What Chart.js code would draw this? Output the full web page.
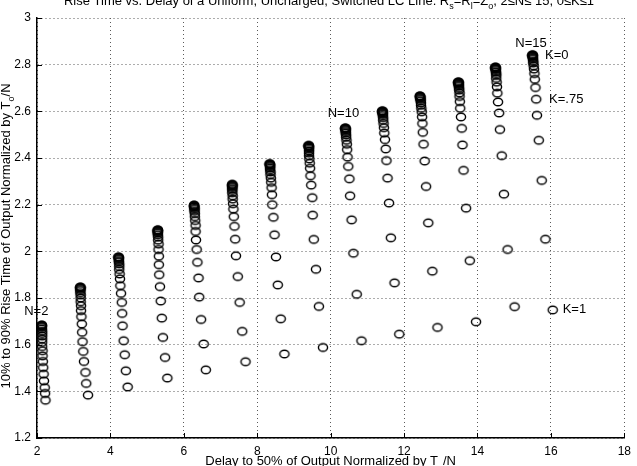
<!DOCTYPE html>
<html>
<head>
<meta charset="utf-8">
<script src="https://cdn.jsdelivr.net/npm/chart.js@4"></script>
<style>
  html, body { margin: 0; padding: 0; background: #fff; }
  canvas { display: block; }
</style>
</head>
<body>
<canvas id="riseChart" width="637" height="466"></canvas>
<script>
// axis ticks
const xTicks = [2, 4, 6, 8, 10, 12, 14, 16, 18];
const yTicks = [1.2, 1.4, 1.6, 1.8, 2, 2.2, 2.4, 2.6, 2.8, 3];

// one column per N, points ordered K=0 (top) ... K=1 (bottom), step .05
const n2Delay = [2.13, 2.13, 2.13, 2.13, 2.13, 2.13, 2.14, 2.14, 2.14, 2.14, 2.14, 2.14, 2.15, 2.15, 2.16, 2.17, 2.18, 2.19, 2.21, 2.22, 2.23];
const n2Rise = [1.684, 1.683, 1.681, 1.678, 1.674, 1.667, 1.658, 1.648, 1.637, 1.624, 1.610, 1.592, 1.574, 1.552, 1.528, 1.502, 1.474, 1.445, 1.416, 1.391, 1.362];

const n3Delay = [3.18, 3.18, 3.18, 3.18, 3.18, 3.18, 3.18, 3.19, 3.19, 3.19, 3.20, 3.20, 3.21, 3.22, 3.23, 3.24, 3.26, 3.28, 3.32, 3.34, 3.39];
const n3Rise = [1.847, 1.846, 1.844, 1.842, 1.837, 1.832, 1.823, 1.813, 1.800, 1.784, 1.767, 1.746, 1.720, 1.689, 1.653, 1.613, 1.571, 1.528, 1.481, 1.434, 1.384];

const n4Delay = [4.22, 4.22, 4.23, 4.23, 4.23, 4.23, 4.23, 4.24, 4.24, 4.24, 4.25, 4.26, 4.27, 4.29, 4.31, 4.32, 4.33, 4.36, 4.39, 4.42, 4.47];
const n4Rise = [1.976, 1.975, 1.973, 1.970, 1.966, 1.960, 1.955, 1.946, 1.935, 1.922, 1.903, 1.882, 1.853, 1.820, 1.781, 1.734, 1.681, 1.617, 1.557, 1.488, 1.419];

const n5Delay = [5.29, 5.29, 5.29, 5.29, 5.29, 5.29, 5.29, 5.29, 5.30, 5.30, 5.31, 5.31, 5.32, 5.32, 5.33, 5.35, 5.37, 5.40, 5.43, 5.49, 5.55];
const n5Rise = [2.092, 2.091, 2.089, 2.088, 2.085, 2.082, 2.078, 2.071, 2.061, 2.048, 2.031, 2.008, 1.979, 1.943, 1.900, 1.849, 1.787, 1.714, 1.631, 1.545, 1.457];

const n6Delay = [6.28, 6.28, 6.28, 6.28, 6.28, 6.29, 6.29, 6.29, 6.30, 6.30, 6.31, 6.32, 6.32, 6.33, 6.35, 6.37, 6.40, 6.42, 6.47, 6.54, 6.60];
const n6Rise = [2.198, 2.197, 2.195, 2.192, 2.190, 2.185, 2.180, 2.172, 2.162, 2.149, 2.132, 2.111, 2.085, 2.049, 2.008, 1.953, 1.886, 1.804, 1.708, 1.603, 1.492];

const n7Delay = [7.32, 7.32, 7.32, 7.32, 7.32, 7.32, 7.32, 7.32, 7.32, 7.33, 7.33, 7.34, 7.35, 7.36, 7.38, 7.40, 7.42, 7.47, 7.52, 7.59, 7.68];
const n7Rise = [2.287, 2.286, 2.284, 2.281, 2.278, 2.274, 2.268, 2.261, 2.251, 2.238, 2.224, 2.204, 2.181, 2.149, 2.107, 2.052, 1.981, 1.892, 1.781, 1.657, 1.527];

const n8Delay = [8.34, 8.34, 8.34, 8.35, 8.35, 8.35, 8.35, 8.35, 8.36, 8.36, 8.37, 8.38, 8.39, 8.40, 8.41, 8.44, 8.47, 8.51, 8.56, 8.64, 8.74];
const n8Rise = [2.376, 2.374, 2.373, 2.370, 2.367, 2.363, 2.357, 2.350, 2.340, 2.329, 2.314, 2.296, 2.273, 2.243, 2.200, 2.146, 2.071, 1.976, 1.856, 1.711, 1.560];

const n9Delay = [9.40, 9.40, 9.40, 9.40, 9.41, 9.41, 9.41, 9.41, 9.41, 9.41, 9.42, 9.43, 9.44, 9.45, 9.47, 9.50, 9.51, 9.54, 9.60, 9.68, 9.79];
const n9Rise = [2.454, 2.453, 2.451, 2.450, 2.447, 2.443, 2.437, 2.430, 2.421, 2.410, 2.396, 2.378, 2.356, 2.324, 2.284, 2.230, 2.155, 2.051, 1.923, 1.764, 1.588];

const n10Delay = [10.40, 10.40, 10.40, 10.40, 10.41, 10.41, 10.41, 10.41, 10.42, 10.42, 10.43, 10.44, 10.45, 10.46, 10.48, 10.51, 10.53, 10.57, 10.62, 10.71, 10.84];
const n10Rise = [2.529, 2.528, 2.526, 2.525, 2.522, 2.518, 2.513, 2.507, 2.499, 2.489, 2.476, 2.459, 2.436, 2.404, 2.364, 2.311, 2.238, 2.135, 1.992, 1.816, 1.617];

const n11Delay = [11.41, 11.41, 11.41, 11.41, 11.41, 11.42, 11.42, 11.42, 11.43, 11.43, 11.44, 11.45, 11.46, 11.48, 11.50, 11.52, 11.55, 11.59, 11.64, 11.74, 11.87];
const n11Rise = [2.602, 2.601, 2.599, 2.598, 2.595, 2.592, 2.588, 2.582, 2.573, 2.562, 2.548, 2.530, 2.507, 2.479, 2.439, 2.389, 2.314, 2.207, 2.058, 1.865, 1.645];

const n12Delay = [12.43, 12.43, 12.44, 12.44, 12.44, 12.44, 12.45, 12.45, 12.46, 12.46, 12.47, 12.48, 12.49, 12.50, 12.51, 12.53, 12.56, 12.60, 12.66, 12.77, 12.91];
const n12Rise = [2.666, 2.665, 2.664, 2.662, 2.659, 2.655, 2.651, 2.645, 2.636, 2.626, 2.613, 2.598, 2.576, 2.548, 2.510, 2.459, 2.387, 2.278, 2.122, 1.915, 1.674];

const n13Delay = [13.48, 13.48, 13.48, 13.48, 13.48, 13.49, 13.49, 13.49, 13.50, 13.50, 13.51, 13.51, 13.52, 13.53, 13.55, 13.57, 13.59, 13.62, 13.69, 13.79, 13.96];
const n13Rise = [2.726, 2.725, 2.724, 2.722, 2.719, 2.716, 2.712, 2.707, 2.699, 2.691, 2.679, 2.664, 2.642, 2.613, 2.576, 2.527, 2.456, 2.347, 2.185, 1.960, 1.698];

const n14Delay = [14.49, 14.49, 14.49, 14.49, 14.49, 14.50, 14.50, 14.50, 14.51, 14.51, 14.51, 14.52, 14.53, 14.54, 14.56, 14.59, 14.61, 14.66, 14.72, 14.82, 15.01];
const n14Rise = [2.790, 2.788, 2.787, 2.785, 2.782, 2.780, 2.775, 2.769, 2.762, 2.754, 2.741, 2.725, 2.705, 2.678, 2.640, 2.593, 2.522, 2.410, 2.245, 2.008, 1.763];

const n15Delay = [15.50, 15.50, 15.50, 15.50, 15.50, 15.51, 15.51, 15.51, 15.52, 15.52, 15.53, 15.54, 15.55, 15.56, 15.58, 15.60, 15.62, 15.67, 15.75, 15.85, 16.05];
const n15Rise = [2.842, 2.841, 2.840, 2.838, 2.835, 2.832, 2.828, 2.823, 2.815, 2.807, 2.795, 2.781, 2.762, 2.737, 2.702, 2.652, 2.583, 2.476, 2.304, 2.052, 1.749];

// text notes placed in data coordinates
const noteTexts = ['N=2', 'N=10', 'N=15', 'K=0', 'K=.75', 'K=1'];
const noteX = [1.65, 9.92, 15.03, 15.84, 15.95, 16.32];
const noteY = [1.741, 2.593, 2.893, 2.841, 2.652, 1.750];

const FONT = "'Liberation Sans', Arial, Helvetica, sans-serif";

const delayCols = [n2Delay, n3Delay, n4Delay, n5Delay, n6Delay, n7Delay, n8Delay, n9Delay, n10Delay, n11Delay, n12Delay, n13Delay, n14Delay, n15Delay];
const riseCols = [n2Rise, n3Rise, n4Rise, n5Rise, n6Rise, n7Rise, n8Rise, n9Rise, n10Rise, n11Rise, n12Rise, n13Rise, n14Rise, n15Rise];

// matlab-ish 'o' marker, a touch wider than tall
function makeMarker() {
    const c = document.createElement('canvas');
    c.width = 14;
    c.height = 12;
    const g = c.getContext('2d');
    g.strokeStyle = '#000';
    g.lineWidth = 1.4;
    g.beginPath();
    g.ellipse(7, 6, 4.6, 3.8, 0, 0, Math.PI * 2);
    g.stroke();
    return c;
}
const marker = makeMarker();

const datasets = delayCols.map((xs, i) => ({
    label: 'N=' + (i + 2),
    data: xs.map((x, j) => ({ x: x, y: riseCols[i][j] })),
    pointStyle: marker,
    pointRadius: 5,
    showLine: false,
}));

// draws text made of normal and subscript pieces, centred on cx
function drawRich(ctx, parts, cx, baseY, size, subDrop) {
    const subSize = Math.round(size * 0.72);
    let total = 0;
    parts.forEach(p => {
        ctx.font = (p[1] ? subSize : size) + 'px ' + FONT;
        total += ctx.measureText(p[0]).width;
    });
    let xPos = cx - total / 2;
    ctx.textAlign = 'left';
    ctx.textBaseline = 'alphabetic';
    parts.forEach(p => {
        ctx.font = (p[1] ? subSize : size) + 'px ' + FONT;
        ctx.fillText(p[0], xPos, baseY + (p[1] ? subDrop : 0));
        xPos += ctx.measureText(p[0]).width;
    });
}

const decorPlugin = {
    id: 'decor',
    afterDatasetsDraw(chart) {
        const { ctx, chartArea: a, scales: { x, y } } = chart;
        ctx.save();

        // short inward tick marks
        ctx.strokeStyle = '#000';
        ctx.lineWidth = 1;
        ctx.beginPath();
        xTicks.forEach(v => {
            const px = Math.round(x.getPixelForValue(v)) + 0.5;
            ctx.moveTo(px, a.bottom);
            ctx.lineTo(px, a.bottom - 5);
        });
        yTicks.forEach(v => {
            const py = Math.round(y.getPixelForValue(v)) + 0.5;
            ctx.moveTo(a.left, py);
            ctx.lineTo(a.left + 5, py);
        });
        ctx.stroke();

        ctx.fillStyle = '#000';
        ctx.font = '13px ' + FONT;
        ctx.textAlign = 'left';
        ctx.textBaseline = 'middle';
        noteTexts.forEach((t, i) => {
            ctx.fillText(t, x.getPixelForValue(noteX[i]), y.getPixelForValue(noteY[i]));
        });

        // title (top of it runs off the canvas like the scan)
        drawRich(ctx, [
            ['Rise Time vs. Delay of a Uniform, Uncharged, Switched LC Line. R', 0],
            ['s', 1], ['=R', 0], ['l', 1], ['=Z', 0], ['o', 1],
            [', 2\u2264N\u2264 15, 0\u2264K\u22641', 0]
        ], 329, 5, 13, 4);

        drawRich(ctx, [
            ['Delay to 50% of Output Normalized by T', 0], ['o', 1], ['/N', 0]
        ], (a.left + a.right) / 2, 465, 13, 6);

        ctx.translate(10, 236);
        ctx.rotate(-Math.PI / 2);
        drawRich(ctx, [
            ['10% to 90% Rise Time of Output Normalized by T', 0], ['o', 1], ['/N', 0]
        ], 0, 0, 13, 4);

        ctx.restore();
    }
};

const gridColor = '#5a5a5a';

new Chart(document.getElementById('riseChart'), {
    type: 'scatter',
    data: { datasets: datasets },
    options: {
        responsive: false,
        animation: false,
        events: [],
        layout: { padding: { top: 18, right: 8, left: 0, bottom: 0 } },
        plugins: {
            legend: { display: false },
            tooltip: { enabled: false },
        },
        scales: {
            x: {
                type: 'linear',
                min: 2,
                max: 18,
                afterFit: s => { s.height = 28; },
                afterBuildTicks: s => { s.ticks = xTicks.map(v => ({ value: v })); },
                grid: { color: gridColor, lineWidth: 1, drawTicks: false },
                border: { display: true, color: '#000', width: 1.5, dash: [1, 3] },
                ticks: {
                    autoSkip: false,
                    maxRotation: 0,
                    padding: 6,
                    color: '#000',
                    font: { family: FONT, size: 12 },
                    callback: v => String(v),
                },
            },
            y: {
                type: 'linear',
                min: 1.2,
                max: 3,
                afterFit: s => { s.width = 37; },
                afterBuildTicks: s => { s.ticks = yTicks.map(v => ({ value: v })); },
                grid: { color: gridColor, lineWidth: 1, drawTicks: false },
                border: { display: true, color: '#000', width: 1.5, dash: [1, 3] },
                ticks: {
                    autoSkip: false,
                    padding: 6,
                    color: '#000',
                    font: { family: FONT, size: 12 },
                    callback: v => String(v),
                },
            },
        },
    },
    plugins: [decorPlugin],
});
</script>
</body>
</html>
